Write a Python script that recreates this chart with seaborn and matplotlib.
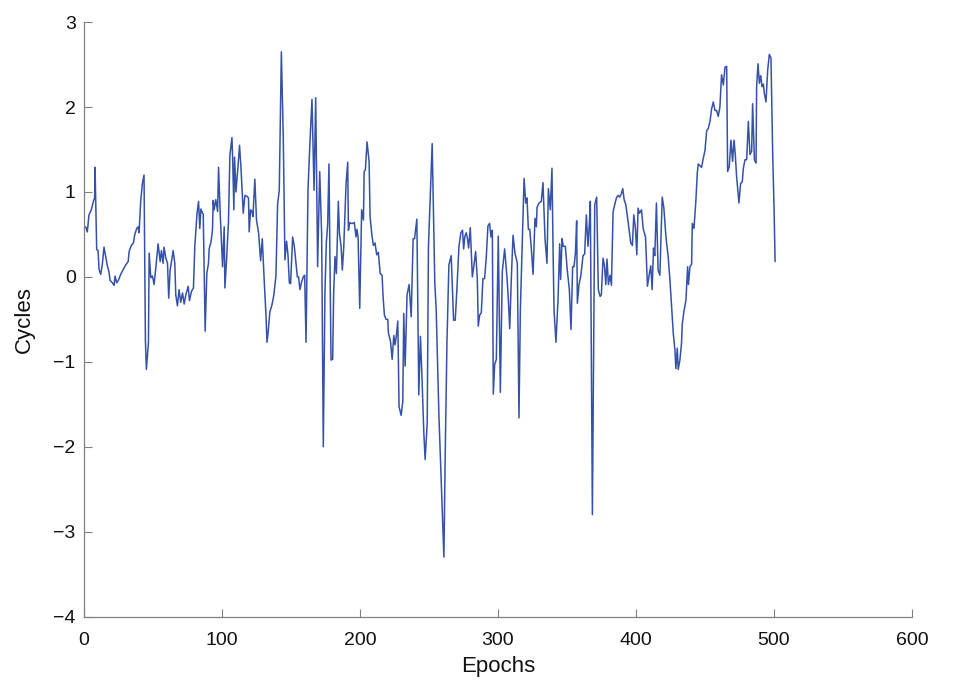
import matplotlib
matplotlib.use("Agg")
import matplotlib.pyplot as plt
import seaborn as sns
import pandas as pd

# values
epochs = [
    1.2, 2.4, 3.6, 5.3, 6.8, 7.7, 8.0, 9.2, 10.2, 10.9, 12.1, 13.3, 14.5, 15.7, 16.9, 18.1,
    18.9, 20.6, 21.8, 22.5, 23.7, 24.9, 26.6, 28.5, 30.2, 32.0, 32.7, 34.3, 35.8, 36.8, 38.2,
    39.2, 39.9, 41.1, 42.3, 43.5, 44.5, 45.2, 46.7, 47.2, 48.4, 49.6, 50.8, 52.0, 53.7, 55.2,
    56.1, 57.3, 58.0, 59.3, 60.5, 61.4, 62.4, 63.4, 64.6, 65.8, 66.5, 67.7, 68.9, 70.1, 71.4,
    72.6, 73.8, 75.5, 76.4, 77.9, 79.3, 80.3, 81.8, 83.0,
    83.9, 84.7, 85.9, 86.4, 87.8, 89.0, 90.2, 90.7, 92.0, 93.1, 93.6, 94.3, 95.5, 96.8, 97.5,
    98.7, 100.4, 101.6, 102.1, 103.3, 104.7, 105.7, 107.2, 107.7, 108.6, 109.1, 110.1, 111.5,
    112.7, 113.7, 115.4, 116.6, 118.0, 119.2, 119.7, 120.7, 121.7, 122.4, 123.8, 125.0, 126.5,
    128.0, 129.2, 130.4, 131.8, 132.6, 133.5, 134.7, 136.2, 137.6, 139.1, 140.3, 141.5, 143.0,
    144.4, 145.6, 146.8, 147.8, 148.8, 149.7, 151.2, 152.4, 153.6, 154.6, 155.5, 156.5, 157.7,
    158.9, 159.9, 160.9, 162.3, 163.8, 165.2, 166.7, 167.9,
    169.3, 170.8, 172.2, 173.4, 174.6, 175.6, 176.6, 177.5, 179.0, 180.2, 180.9, 181.9, 182.9,
    184.3, 185.1, 186.3, 187.2, 188.2, 189.9, 191.1, 191.6, 192.5, 193.5, 194.7, 195.9, 197.1,
    197.8, 198.6, 199.8, 201.2, 202.5, 203.0, 203.9, 205.1, 206.6, 207.3, 208.5, 209.7, 210.9,
    212.1, 213.3, 214.6, 216.0, 216.7, 217.7, 218.9, 220.1, 220.6, 222.1, 223.3, 224.5, 225.4,
    226.3, 227.4, 228.3, 229.8, 231.0, 231.7, 232.7, 234.1, 235.6, 237.1, 238.5, 239.5, 241.2,
    242.6, 243.8, 244.8, 246.2, 247.2, 248.7, 249.6, 251.1, 252.3,
    253.3, 254.2, 255.2, 257.2, 258.9, 260.1, 260.8, 261.8, 263.0, 264.4, 266.1, 267.8, 269.0,
    270.2, 271.7, 273.1, 274.3, 275.1, 276.0, 277.0, 278.0, 278.7, 279.9, 281.4, 282.6, 283.8,
    285.0, 285.7, 286.7, 287.9, 289.1, 290.3, 291.5, 292.7, 293.9, 294.9, 295.9, 296.6, 297.6,
    298.8, 300.2, 301.7, 303.1, 304.8, 306.5, 307.5, 308.5, 309.7, 310.9, 312.3, 314.0, 315.2,
    316.2, 317.4, 318.9, 320.1, 321.0, 322.0, 323.0, 324.2, 325.4, 326.8, 327.8, 328.3, 329.7,
    331.4, 332.6, 334.1, 335.5, 336.5,
    337.9, 339.1, 339.9, 340.6, 342.0, 343.5, 344.7, 345.4, 346.4, 347.3, 348.8, 350.2, 351.7,
    352.9, 354.1, 355.1, 356.1, 357.0, 357.5, 358.7, 359.9, 360.9, 361.6, 362.8, 364.0, 365.2,
    366.2, 366.9, 368.4, 370.1, 371.5, 372.7, 374.0, 374.9, 376.1, 377.1, 378.1, 379.0, 380.0,
    381.2, 382.2, 383.4, 384.6, 385.8, 387.0, 388.2, 389.4, 390.4, 391.4, 392.6, 393.8, 395.0,
    396.2, 397.4, 398.4, 399.6, 400.6, 401.5, 402.5, 404.0, 405.2, 406.9, 408.3, 409.5, 410.7,
    411.7, 412.7, 413.6, 414.8, 416.0, 417.3,
    419.0, 420.2, 421.7, 423.3, 424.6, 425.8, 427.0, 428.2, 428.9, 429.9, 430.6, 431.8, 433.0,
    433.5, 434.7, 436.2, 436.7, 437.4, 438.0, 439.1, 440.3, 440.8, 442.0, 443.4, 444.4, 445.1,
    446.3, 447.5, 448.8, 450.0, 451.2, 452.4, 453.6, 454.8, 456.0, 457.2, 458.4, 459.6, 460.8,
    462.0, 463.3, 464.5, 465.7, 466.4, 467.6, 468.8, 470.0, 471.0, 471.9, 472.9, 474.6, 475.8,
    477.0, 477.8, 479.0, 480.2, 481.4, 482.6, 483.8, 484.5, 485.8, 487.0, 487.4, 488.4, 489.4,
    490.4, 491.3, 492.3, 493.0, 494.2, 495.4, 496.6, 497.8, 499.1, 500.0, 500.8,
]
cycles = [
    0.59, 0.53, 0.73, 0.79, 0.89, 0.93, 1.29, 0.32, 0.31, 0.09, 0.03, 0.15, 0.35, 0.24, 0.13, 0.06,
    -0.04, -0.07, -0.10, 0.01, -0.07, -0.04, 0.03, 0.09, 0.14, 0.18, 0.30, 0.37, 0.40, 0.50, 0.57,
    0.59, 0.52, 0.89, 1.10, 1.20, -0.75, -1.09, -0.77, 0.28, -0.01, 0.01, -0.09, 0.10, 0.39, 0.18,
    0.31, 0.16, 0.35, 0.22, 0.16, -0.25, 0.08, 0.18, 0.31, 0.16, -0.21, -0.34, -0.15, -0.30, -0.19,
    -0.32, -0.21, -0.11, -0.28, -0.17, -0.13, 0.36, 0.73, 0.89,
    0.57, 0.80, 0.75, 0.74, -0.64, 0.04, 0.16, 0.33, 0.41, 0.55, 0.90, 0.79, 0.91, 0.77, 1.29,
    0.75, 0.12, 0.59, -0.13, 0.20, 0.65, 1.43, 1.64, 1.41, 0.79, 1.41, 1.00, 1.28,
    1.55, 1.30, 0.75, 0.96, 0.95, 0.93, 0.53, 0.79, 0.77, 0.71, 1.15, 0.67, 0.52,
    0.19, 0.45, 0.02, -0.43, -0.77, -0.64, -0.41, -0.33, -0.21, 0.02, 0.86, 1.02, 2.65,
    1.65, 0.20, 0.42, 0.26, -0.07, -0.08, 0.47, 0.36, 0.16, 0.00, 0.00, -0.15, -0.06,
    0.00, 0.02, -0.77, 1.02, 1.61, 2.09, 1.02, 2.11,
    0.12, 1.24, 0.51, -2.00, -0.19, 0.40, 0.63, 1.33, -0.98, -0.97, -0.19, 0.24, 0.04,
    0.89, 0.51, 0.36, 0.08, 0.34, 1.10, 1.35, 0.55, 0.64, 0.63, 0.63, 0.64, 0.47,
    0.56, 0.47, -0.37, 0.79, 0.67, 1.24, 1.26, 1.59, 1.36, 0.71, 0.51, 0.37, 0.40,
    0.26, 0.29, 0.04, 0.02, -0.23, -0.45, -0.50, -0.50, -0.66, -0.76, -0.97, -0.69, -0.80,
    -0.70, -0.52, -1.53, -1.63, -1.47, -0.43, -1.05, -0.21, -0.09, -0.47, 0.45, 0.45, 0.68,
    -1.39, -0.70, -1.13, -1.82, -2.15, -1.72, 0.36, 1.02, 1.57,
    0.71, -0.07, -0.38, -1.64, -2.43, -3.02, -3.30, -2.03, -0.78, 0.14, 0.25, -0.51, -0.51,
    -0.15, 0.36, 0.52, 0.55, 0.33, 0.48, 0.52, 0.44, 0.34, 0.58, 0.00, 0.14, 0.30,
    -0.02, -0.58, -0.45, -0.42, -0.02, -0.02, 0.23, 0.60, 0.63, 0.47, 0.55, -1.38, -1.03,
    -0.97, 0.48, -1.36, 0.06, 0.33, 0.00, -0.27, -0.61, 0.00, 0.49, 0.28, 0.16, -1.66,
    -0.39, 0.32, 1.16, 0.87, 0.93, 0.56, 0.56, 0.32, 0.03, 0.69, 0.59, 0.82, 0.87,
    0.89, 1.11, 0.44, 0.16, 1.04,
    0.79, 1.28, 0.32, -0.39, -0.77, -0.27, 0.39, -0.03, 0.45, 0.36, 0.36, 0.08, -0.15,
    -0.62, 0.12, 0.12, 0.28, 0.66, -0.31, -0.09, 0.00, 0.14, 0.25, 0.27, 0.73, 0.36,
    0.63, 0.89, -2.80, 0.85, 0.94, -0.15, -0.23, -0.21, 0.22, 0.14, -0.09, 0.21, -0.09,
    0.02, -0.10, 0.77, 0.85, 0.93, 0.96, 0.94, 0.98, 1.04, 0.91, 0.85, 0.71, 0.55,
    0.40, 0.37, 0.73, 0.57, 0.26, 0.81, 0.75, 0.79, 0.57, 0.47, -0.11, 0.02, 0.13,
    -0.15, 0.34, 0.25, 0.87, 0.08, 0.02,
    0.94, 0.81, 0.47, 0.24, -0.04, -0.35, -0.66, -0.86, -1.08, -0.84, -1.09, -0.98, -0.78,
    -0.56, -0.41, -0.27, -0.11, 0.12, -0.09, 0.12, 0.15, 0.63, 0.57, 0.90, 1.22, 1.33,
    1.31, 1.29, 1.40, 1.49, 1.72, 1.75, 1.83, 1.98, 2.06, 1.96, 1.96, 1.89, 2.00,
    2.38, 2.26, 2.47, 2.48, 1.24, 1.30, 1.61, 1.36, 1.61, 1.45, 1.18, 0.87, 1.10,
    1.12, 1.28, 1.38, 1.38, 1.83, 1.44, 1.48, 2.04, 1.38, 1.34, 2.24, 2.51, 2.28,
    2.37, 2.24, 2.27, 2.16, 2.06, 2.43, 2.62, 2.58, 1.41, 0.83, 0.18,
]

x_ticks = [0, 100, 200, 300, 400, 500, 600]
y_ticks = [-4, -3, -2, -1, 0, 1, 2, 3]

df = pd.DataFrame({"Epochs": epochs, "Cycles": cycles})

sns.set_theme(style="ticks")
plt.rcParams["font.family"] = ["Liberation Sans", "DejaVu Sans"]

fig = plt.figure(figsize=(9.6, 6.92), dpi=100)
ax = fig.add_axes([0.0875, 0.109, 0.8625, 0.859])

sns.lineplot(data=df, x="Epochs", y="Cycles", sort=False, estimator=None,
             color="#3552a8", linewidth=1.1, ax=ax)

ax.set_xlim(0, 600)
ax.set_ylim(-4, 3)
ax.set_xticks(x_ticks)
ax.set_yticks(y_ticks)
ax.set_xlabel("Epochs", fontsize=16, labelpad=5, color="#111111")
ax.set_ylabel("Cycles", fontsize=16, labelpad=13, color="#111111")
ax.tick_params(direction="in", length=6, width=0.8, labelsize=14,
               color="#808080", labelcolor="#111111")
ax.tick_params(axis="x", pad=11)
ax.tick_params(axis="y", pad=6)
sns.despine(ax=ax)
for side in ["left", "bottom"]:
    ax.spines[side].set_color("#808080")
    ax.spines[side].set_linewidth(0.9)

fig.savefig("out.png", dpi=100)
